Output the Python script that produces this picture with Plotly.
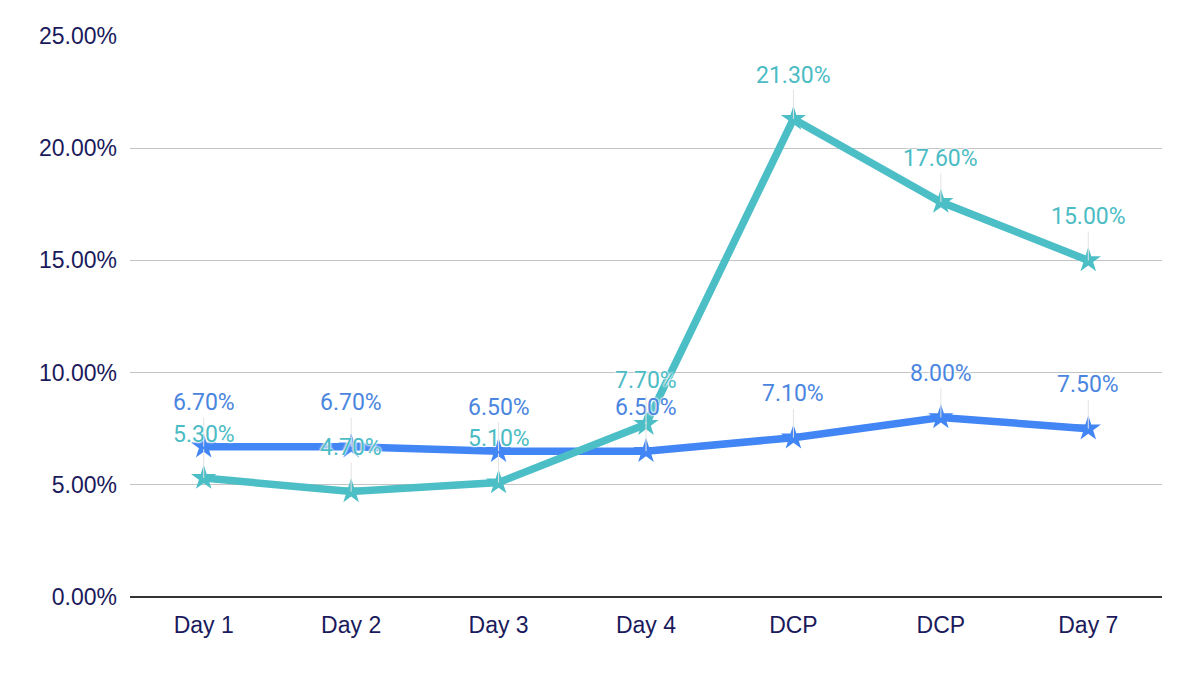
import plotly.graph_objects as go

categories = ["Day 1", "Day 2", "Day 3", "Day 4", "DCP", "DCP", "Day 7"]
series_a = [6.7, 6.7, 6.5, 6.5, 7.1, 8.0, 7.5]
series_b = [5.3, 4.7, 5.1, 7.7, 21.3, 17.6, 15.0]
y_ticks = [0, 5, 10, 15, 20, 25]
y_tick_labels = ["0.00%", "5.00%", "10.00%", "15.00%", "20.00%", "25.00%"]

blue = "#4285f4"
teal = "#4bbec6"
blue_lbl = "#4a86e0"
teal_lbl = "#4bbcc4"

xs = list(range(len(categories)))

fig = go.Figure()
for vals, col in [(series_a, blue), (series_b, teal)]:
    fig.add_trace(go.Scatter(
        x=xs, y=vals, mode="lines+markers",
        line=dict(color=col, width=7.5),
        marker=dict(symbol="star", size=19, color=col, line=dict(width=0)),
        hoverinfo="skip", showlegend=False,
    ))

annotations = []
for vals, col in [(series_a, blue_lbl), (series_b, teal_lbl)]:
    for x, v in zip(xs, vals):
        annotations.append(dict(
            x=x, y=v, xref="x", yref="y",
            text=f"{v:.2f}%",
            showarrow=True, arrowhead=0, arrowwidth=1, arrowcolor="#e3e3e3",
            ax=0, ay=-44, standoff=0, startstandoff=0,
            font=dict(family="Roboto", size=23, color=col,
                      shadow="0px 0px 2px white, 0px 0px 2px white, 0px 0px 3px white"),
        ))

fig.update_layout(
    width=1184, height=658,
    margin=dict(l=122, r=30, t=28, b=69),
    paper_bgcolor="white", plot_bgcolor="white",
    annotations=annotations,
    xaxis=dict(
        range=[-0.5, 6.5], tickmode="array", tickvals=xs, ticktext=categories,
        showgrid=False, zeroline=False, showline=False,
        tickfont=dict(family="Liberation Sans, Arial", size=23, color="#1a1a5c"),
        ticklabelstandoff=12, fixedrange=True,
    ),
    yaxis=dict(
        range=[0, 25], tickmode="array", tickvals=y_ticks, ticktext=y_tick_labels,
        showgrid=True, gridcolor="#c4c4c4", gridwidth=1.3,
        zeroline=True, zerolinecolor="#333333", zerolinewidth=2,
        showline=False,
        tickfont=dict(family="Liberation Sans, Arial", size=23, color="#1a1a5c"),
        ticklabelstandoff=12, fixedrange=True,
    ),
)

fig.write_html("out.html")
